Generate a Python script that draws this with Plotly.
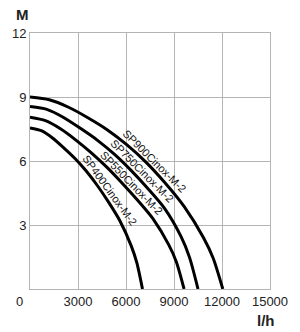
import numpy as np
import plotly.graph_objects as go

# Data (flow l/h, head M)
sp900_q = [0, 1205, 2410, 3615, 4820, 6025, 7230, 8435, 9640, 10845, 11450, 12050]
sp900_h = [9.0, 8.87, 8.52, 8.03, 7.47, 6.78, 5.96, 4.98, 3.86, 2.40, 1.44, 0]
sp750_q = [0, 1050, 2100, 3150, 4200, 5250, 6300, 7350, 8400, 9450, 9975, 10500]
sp750_h = [8.55, 8.42, 8.04, 7.53, 6.98, 6.33, 5.57, 4.72, 3.79, 2.44, 1.47, 0]
sp550_q = [0, 963, 1926, 2889, 3852, 4815, 5778, 6741, 7704, 8667, 9149, 9630]
sp550_h = [8.05, 7.89, 7.50, 6.97, 6.37, 5.70, 4.95, 4.15, 3.28, 2.08, 1.27, 0]
sp400_q = [0, 703, 1406, 2109, 2812, 3515, 4218, 4921, 5624, 6327, 6679, 7030]
sp400_h = [7.55, 7.42, 7.08, 6.62, 6.12, 5.53, 4.84, 4.06, 3.19, 2.02, 1.22, 0]
names = ["SP900Cinox-M-2", "SP750Cinox-M-2", "SP550Cinox-M-2", "SP400Cinox-M-2"]
series = [(sp900_q, sp900_h), (sp750_q, sp750_h), (sp550_q, sp550_h), (sp400_q, sp400_h)]

x_ticks = [3000, 6000, 9000, 12000, 15000]
y_ticks = [3, 6, 9, 12]

FONT = "Liberation Sans, Arial, sans-serif"
W, H = 300, 332
ml, mr, mt, mb = 22, 19, 33, 43
pw, ph = W - ml - mr, H - mt - mb
XMAX, YMAX = 15000, 12

# approximate pixel centres of the labels in the reference, and gap from curve
label_px = [(153, 164), (140, 174), (131, 183), (105, 192)]
LABEL_GAP = 7.5

def to_px(q, h):
    return ml + np.asarray(q) / XMAX * pw, mt + (1 - np.asarray(h) / YMAX) * ph

fig = go.Figure()
for (q, h), n in zip(series, names):
    fig.add_trace(go.Scatter(x=q, y=h, mode="lines", name=n,
                             line=dict(color="#000000", width=3, shape="spline", smoothing=0.7),
                             hoverinfo="skip"))

for (q, h), n, (cx, cy) in zip(series, names, label_px):
    qq = np.linspace(0, q[-1], 800)
    hh = np.interp(qq, q, h)
    px, py = to_px(qq, hh)
    i = int(np.argmin((px - cx) ** 2 + (py - cy) ** 2))
    i0, i1 = max(i - 20, 0), min(i + 20, len(qq) - 1)
    ang = np.arctan2(py[i1] - py[i0], px[i1] - px[i0])
    fig.add_annotation(x=qq[i], y=hh[i], xref="x", yref="y", text=n, showarrow=False,
                       textangle=float(np.degrees(ang)),
                       xshift=float(LABEL_GAP * np.sin(ang)), yshift=float(LABEL_GAP * np.cos(ang)),
                       font=dict(family=FONT, size=11, color="#111111"))

def px2paper(px, py):
    return (px - ml) / pw, (H - mb - py) / ph

extra = [
    ("0", 11, 301, 13, False),
    ("M", 14, 14, 15, True),
    ("l/h", 277, 320, 15, True),
]
for t, px, py, sz, b in extra:
    ax, ay = px2paper(px, py)
    fig.add_annotation(x=ax, y=ay, xref="paper", yref="paper", text=("<b>%s</b>" % t) if b else t,
                       showarrow=False, xanchor="center", yanchor="middle",
                       font=dict(family=FONT, size=sz, color="#222222"))

fig.update_layout(
    width=W, height=H, margin=dict(l=ml, r=mr, t=mt, b=mb),
    paper_bgcolor="white", plot_bgcolor="white", showlegend=False,
    font=dict(family=FONT, size=13, color="#222222"),
)
fig.update_xaxes(range=[0, XMAX], tickvals=x_ticks, ticktext=[str(v) for v in x_ticks],
                 showgrid=True, gridcolor="#b4b4b4", gridwidth=1, zeroline=False,
                 showline=True, linecolor="#b4b4b4", linewidth=1, mirror=True,
                 ticks="", tickfont=dict(size=13, color="#222222"))
fig.update_yaxes(range=[0, YMAX], tickvals=y_ticks, ticktext=[str(v) for v in y_ticks],
                 showgrid=True, gridcolor="#b4b4b4", gridwidth=1, zeroline=False,
                 showline=True, linecolor="#b4b4b4", linewidth=1, mirror=True,
                 ticks="", tickfont=dict(size=13, color="#222222"))

fig.write_html("out.html")
